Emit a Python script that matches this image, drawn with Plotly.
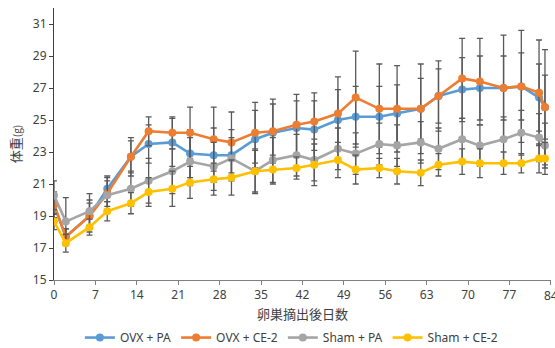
import plotly.graph_objects as go

# Days after ovariectomy at which body weight was measured
days = [0, 2, 6, 9, 13, 16, 20, 23, 27, 30, 34, 37, 41, 44, 48, 51, 55, 58, 62, 65, 69, 72, 76, 79, 82, 83]

# Mean body weight (g) per group
ovx_pa = [19.7, 17.7, 19.0, 20.7, 22.7, 23.5, 23.6, 22.9, 22.8, 22.8, 23.8, 24.2, 24.5, 24.4, 25.0, 25.2,
          25.2, 25.4, 25.7, 26.5, 26.9, 27.0, 27.0, 27.1, 26.4, 25.8]
ovx_ce2 = [19.7, 17.7, 19.0, 20.4, 22.7, 24.3, 24.2, 24.2, 23.8, 23.6, 24.2, 24.3, 24.7, 24.9, 25.4, 26.4,
           25.7, 25.7, 25.7, 26.5, 27.6, 27.4, 27.0, 27.1, 26.7, 25.8]
sham_pa = [20.3, 18.65, 19.3, 20.3, 20.7, 21.2, 21.8, 22.4, 22.1, 22.6, 21.8, 22.5, 22.8, 22.5, 23.2, 22.9,
           23.5, 23.4, 23.6, 23.2, 23.8, 23.4, 23.8, 24.2, 23.9, 23.4]
sham_ce2 = [18.65, 17.3, 18.3, 19.3, 19.8, 20.5, 20.7, 21.1, 21.3, 21.4, 21.8, 21.9, 22.0, 22.2, 22.5, 21.9,
            22.0, 21.8, 21.7, 22.2, 22.4, 22.3, 22.3, 22.3, 22.6, 22.6]

# Standard deviations (g)
ovx_pa_sd = [0.6, 0.5, 0.8, 0.8, 1.0, 1.2, 1.5, 1.5, 1.7, 1.6, 1.8, 1.8, 1.7, 1.8, 1.9, 1.9,
             1.9, 1.8, 1.9, 1.7, 2.0, 2.0, 2.0, 2.1, 2.1, 2.0]
ovx_ce2_sd = [0.8, 0.5, 1.0, 0.8, 1.2, 0.9, 1.0, 1.6, 2.0, 1.9, 1.9, 2.0, 1.9, 1.8, 2.3, 2.9,
              2.8, 2.7, 2.8, 2.2, 2.5, 2.7, 3.3, 3.5, 3.3, 3.6]
sham_pa_sd = [0.9, 1.5, 1.1, 1.1, 1.1, 1.4, 1.4, 1.5, 1.5, 1.3, 1.4, 1.4, 1.3, 1.3, 1.3, 1.3,
              1.3, 1.3, 1.3, 1.3, 1.3, 1.3, 1.4, 1.4, 1.5, 1.4]
sham_ce2_sd = [0.5, 0.56, 0.5, 0.6, 0.66, 0.9, 1.1, 1.0, 1.0, 1.1, 1.3, 0.9, 0.7, 1.3, 1.1, 0.9,
               0.6, 0.8, 0.8, 0.7, 0.8, 0.9, 0.7, 0.6, 0.9, 1.0]

x_ticks = [0, 7, 14, 21, 28, 35, 42, 49, 56, 63, 70, 77, 84]
y_ticks = [15, 17, 19, 21, 23, 25, 27, 29, 31]

groups = [
    ("OVX + PA", ovx_pa, ovx_pa_sd, "#5B9BD5"),
    ("OVX + CE-2", ovx_ce2, ovx_ce2_sd, "#ED7D31"),
    ("Sham + PA", sham_pa, sham_pa_sd, "#A5A5A5"),
    ("Sham + CE-2", sham_ce2, sham_ce2_sd, "#FFC000"),
]

fig = go.Figure()
for name, vals, sd, color in groups:
    fig.add_trace(go.Scatter(
        x=days, y=vals, name=name, mode="lines+markers",
        line=dict(color=color, width=2.6),
        marker=dict(color=color, size=8),
        error_y=dict(type="data", array=sd, visible=True, color="#595959",
                     thickness=1.3, width=3),
    ))

tick_font = dict(family="Noto Sans, DejaVu Sans, sans-serif", size=12, color="#404040")

# The last tick label sits on the right edge of the figure, where the axis drops it;
# draw it as an annotation so it still shows (partly cut by the page edge).
fig.add_annotation(x=x_ticks[-1], xref="x", y=0, yref="paper", yanchor="top", yshift=-5,
                   text=str(x_ticks[-1]), showarrow=False, font=tick_font)

fig.update_layout(
    width=555, height=348,
    margin=dict(l=54, r=4, t=8, b=68, autoexpand=False),
    plot_bgcolor="white", paper_bgcolor="white",
    showlegend=True,
    legend=dict(orientation="h", xref="container", x=0.525, xanchor="center",
                yref="container", y=0.03, yanchor="middle",
                font=dict(family="Noto Sans, DejaVu Sans, sans-serif", size=12, color="#404040"),
                itemwidth=30, tracegroupgap=0),
    xaxis=dict(range=[0, 84.02], tickvals=x_ticks,
               ticktext=[str(t) for t in x_ticks[:-1]] + [""],
               showgrid=False, zeroline=False, showline=True, linecolor="#808080", linewidth=1,
               ticks="outside", ticklen=4, tickcolor="#808080", tickfont=tick_font,
               automargin=False,
               title=dict(text="卵巣摘出後日数", standoff=8,
                          font=dict(family="Noto Sans CJK JP", size=13, color="#404040"))),
    yaxis=dict(range=[15, 32], tickvals=y_ticks, ticktext=[str(t) for t in y_ticks],
               showgrid=False, zeroline=False, showline=True, linecolor="#404040", linewidth=1,
               ticks="outside", ticklen=4, tickcolor="#404040", tickfont=tick_font,
               automargin=False,
               title=dict(text="体重<span style='font-size:10px'>(g)</span>", standoff=8,
                          font=dict(family="Noto Sans CJK JP", size=13, color="#404040"))),
)

fig.write_html("out.html")
